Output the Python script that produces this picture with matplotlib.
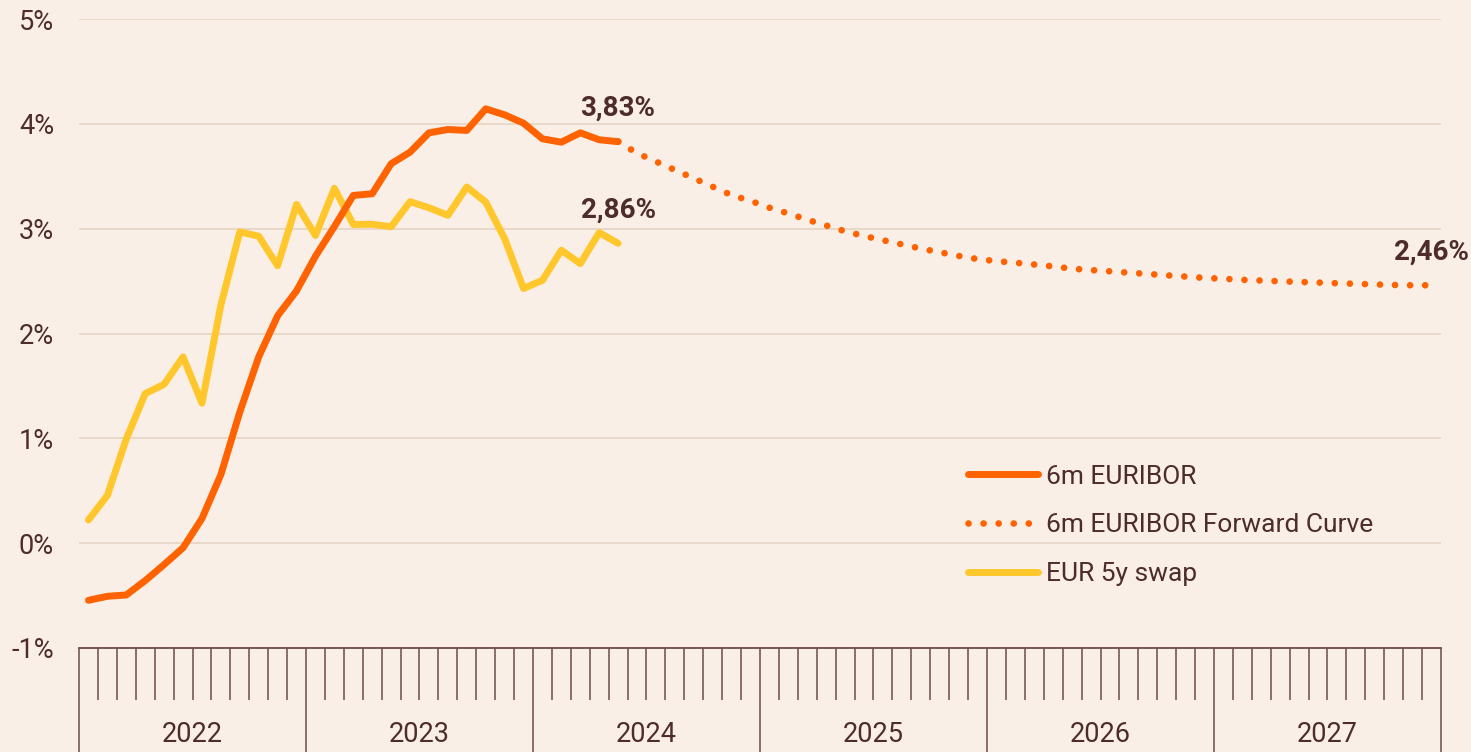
import matplotlib.pyplot as plt
import matplotlib.transforms as mtransforms
import numpy as np

plt.rcParams['font.family'] = ['Roboto', 'DejaVu Sans']

# monthly values, Jan 2022 onwards (month index 0 = Jan 2022)
euribor_6m = [-0.545, -0.507, -0.494, -0.357, -0.204, -0.044, 0.235, 0.654,
              1.25, 1.777, 2.169, 2.407, 2.737, 3.02, 3.317, 3.333, 3.619,
              3.73, 3.914, 3.946, 3.937, 4.143, 4.086, 4.006, 3.857, 3.825,
              3.914, 3.848, 3.83]
swap_5y = [0.221, 0.456, 0.994, 1.427, 1.515, 1.777, 1.335, 2.271, 2.969,
           2.928, 2.646, 3.231, 2.935, 3.385, 3.04, 3.042, 3.018, 3.257, 3.2,
           3.127, 3.397, 3.254, 2.905, 2.429, 2.508, 2.794, 2.667, 2.962, 2.86]
# forward curve, May 2024 - Dec 2027
forward_start = 28
euribor_fwd = [3.83, 3.72, 3.64, 3.56, 3.48, 3.40, 3.32, 3.265, 3.20, 3.145,
               3.085, 3.03, 2.975, 2.93, 2.89, 2.85, 2.81, 2.775, 2.74, 2.71,
               2.69, 2.675, 2.658, 2.64, 2.618, 2.605, 2.593, 2.58, 2.568,
               2.555, 2.543, 2.53, 2.522, 2.512, 2.505, 2.498, 2.492, 2.486,
               2.479, 2.474, 2.468, 2.463, 2.46, 2.46]

years = ['2022', '2023', '2024', '2025', '2026', '2027']
y_ticks = [-1, 0, 1, 2, 3, 4, 5]
y_labels = ['-1%', '0%', '1%', '2%', '3%', '4%', '5%']

bg = '#F9EFE6'
orange = '#FF6200'
yellow = '#FFC72C'
text_col = '#4E2C2C'
grid_col = '#E8D5C4'
tick_col = '#6E4B4B'
fs = 19.5

fig = plt.figure(figsize=(14.71, 7.52), dpi=100, facecolor=bg)
ax = fig.add_axes([79 / 1471, 104 / 752, 1362 / 1471, 629 / 752])
ax.set_facecolor(bg)

x_hist = np.arange(len(euribor_6m)) + 0.5
x_swap = np.arange(len(swap_5y)) + 0.5
x_fwd = np.arange(forward_start, forward_start + len(euribor_fwd)) + 0.5

ax.plot(x_hist, euribor_6m, color=orange, lw=5, solid_capstyle='round',
        solid_joinstyle='round', label='6m EURIBOR', zorder=4)
ax.plot(x_fwd, euribor_fwd, color=orange, lw=4.8, dashes=(0.01, 2.25),
        dash_capstyle='round', label='6m EURIBOR Forward Curve', zorder=3)
ax.plot(x_swap, swap_5y, color=yellow, lw=5, solid_capstyle='round',
        solid_joinstyle='round', label='EUR 5y swap', zorder=3)

# end labels
for xv, yv, txt in [(x_hist[-1], euribor_6m[-1], '3,83%'),
                    (x_swap[-1], swap_5y[-1], '2,86%'),
                    (x_fwd[-1], euribor_fwd[-1], '2,46%')]:
    ax.annotate(txt, (xv, yv), xytext=(0, 24), textcoords='offset points',
                ha='center', va='center', fontsize=20, fontweight='bold',
                color=text_col)

ax.set_xlim(0, 72)
ax.set_ylim(-1, 5)

ax.set_yticks(y_ticks)
ax.set_yticklabels(y_labels)
ax.tick_params(axis='y', length=0, pad=18, labelsize=fs, labelcolor=text_col)
ax.yaxis.grid(True, color=grid_col, lw=1.3)
ax.set_axisbelow(True)

ax.set_xticks(np.arange(0, 73, 12))
ax.set_xticklabels([])
ax.set_xticks(np.arange(0, 73), minor=True)
ax.tick_params(axis='x', which='major', length=75, width=1.1, color=tick_col)
ax.tick_params(axis='x', which='minor', length=37.5, width=1.1, color=tick_col)

trans = mtransforms.blended_transform_factory(ax.transData, ax.transAxes)
for i, yr in enumerate(years):
    ax.text(12 * i + 6, -0.137, yr, transform=trans, ha='center', va='center',
            fontsize=fs, color=text_col)

for s in ['top', 'left', 'right']:
    ax.spines[s].set_visible(False)
ax.spines['bottom'].set_color(tick_col)
ax.spines['bottom'].set_linewidth(1.3)

leg = ax.legend(loc='upper left', bbox_to_anchor=(0.653, 0.2915), frameon=False,
                fontsize=19, handlelength=2.65, handletextpad=0.28,
                labelspacing=0.94, borderaxespad=0, borderpad=0)
for t in leg.get_texts():
    t.set_color(text_col)

fig.savefig('out.png', dpi=100, facecolor=bg)
